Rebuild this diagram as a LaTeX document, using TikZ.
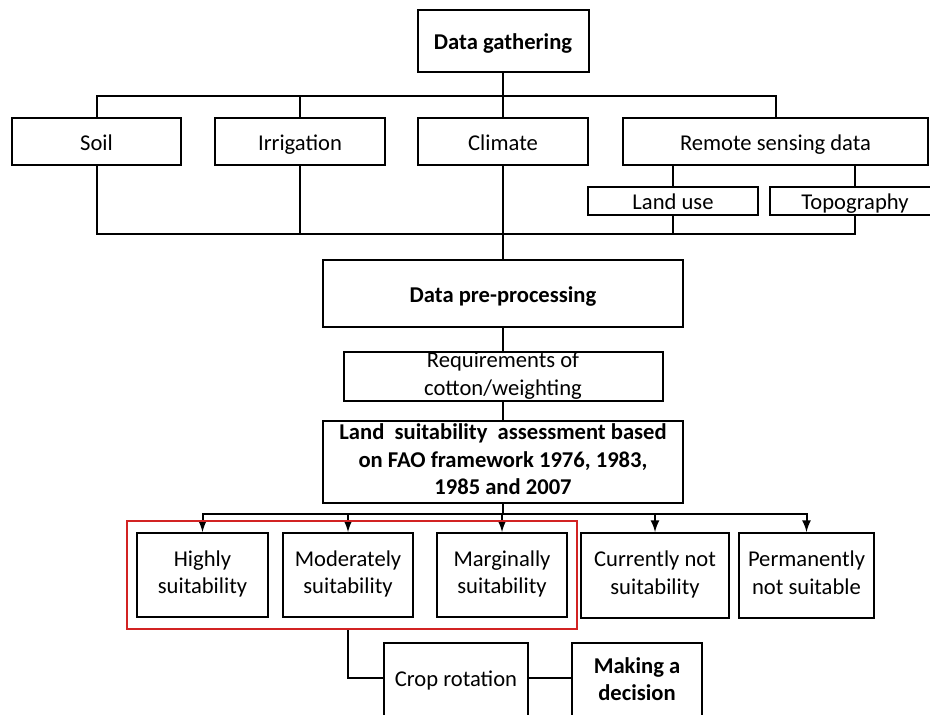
\documentclass[tikz,border=0pt]{standalone}
\usepackage{fontspec}
\setmainfont{Carlito}
\usetikzlibrary{arrows,fit}
\definecolor{framered}{RGB}{210,35,35}
\newcommand{\bxtop}{\rule{0pt}{11.5pt}}
\newcommand{\bxbot}{\rule[-2.8pt]{0pt}{0pt}}

\begin{document}
\begin{tikzpicture}[x=0.5pt,y=-0.5pt,
        box/.style={draw, line width=1pt, align=center, inner sep=0pt,
            font=\fontsize{11.3}{13.6}\selectfont,
            execute at begin node=\bxtop, execute at end node=\bxbot},
        bbox/.style={box, font=\fontsize{11.3}{13.6}\selectfont\bfseries},
        link/.style={line width=1pt},
        arr/.style={line width=1pt, -latex}]
        \useasboundingbox (0,0) rectangle (930,714);
        \clip (0,0) rectangle (930,714);

        % gathering
        \node[bbox, minimum width=85.5pt, minimum height=31pt] (gather) at (503,41) {Data gathering};
        \node[box, minimum width=84.5pt, minimum height=23.5pt] (soil) at (96.5,141.5) {Soil};
        \node[box, minimum width=85pt, minimum height=23.5pt] (irrig) at (300,141.5) {Irrigation};
        \node[box, minimum width=85pt, minimum height=23.5pt] (climate) at (503,141.5) {Climate};
        \node[box, minimum width=152.5pt, minimum height=23.5pt] (remote) at (775.5,141.5) {Remote sensing data};
        \node[box, minimum width=85pt, minimum height=12pt] (landuse) at (673,201) {Land use};
        \node[box, minimum width=85pt, minimum height=12pt] (topo) at (855,201) {Topography};
        \coordinate (join) at (503,234);

        \foreach \n in {soil,irrig,remote}
            \draw[link] (gather.south) -- ++(0,23) -| (\n.north);
        \draw[link] (gather.south) -- (climate.north);
        \draw[link] (remote.south -| landuse) -- (landuse.north);
        \draw[link] (remote.south -| topo) -- (topo.north);
        \foreach \n in {soil,irrig,landuse,topo}
            \draw[link] (\n.south) |- (join);

        % processing
        \node[bbox, minimum width=180pt, minimum height=33.5pt] (prep) at (503,293.5) {Data pre-processing};
        \node[box, minimum width=159.5pt, minimum height=23.5pt] (req) at (503,376.5) {Requirements of\\cotton/weighting};
        \node[bbox, minimum width=180pt, minimum height=41pt] (land) at (503,462)
            {Land\ \ suitability\ \ assessment based\\on FAO framework 1976, 1983,\\1985 and 2007};
        \draw[link] (climate.south) -- (prep.north);
        \draw[link] (prep.south) -- (req.north);
        \draw[link] (req.south) -- (land.north);

        % classes
        \node[box, minimum width=65.5pt, minimum height=42pt] (high) at (202.5,575) {Highly\\suitability};
        \node[box, minimum width=65pt, minimum height=42pt] (moder) at (348,575) {Moderately\\suitability};
        \node[box, minimum width=65pt, minimum height=42pt] (margin) at (502,575) {Marginally\\suitability};
        \node[box, minimum width=74pt, minimum height=42.5pt] (current) at (655,575.5) {Currently not\\suitability};
        \node[box, minimum width=67.5pt, minimum height=42.5pt] (perm) at (806.5,575.5) {Permanently\\not suitable};
        \foreach \n in {high,moder,margin,current,perm}
            \draw[arr] (land.south) -- ++(0,10) -| (\n.north);
        \node[draw=framered, line width=1pt, inner xsep=4.5pt, inner ysep=5.5pt,
            fit=(high)(moder)(margin)] (group) {};

        % decision
        \node[box, minimum width=72pt, minimum height=60pt, anchor=north] (crop) at (456,642) {};
        \node[font=\fontsize{11.3}{13.6}\selectfont, inner sep=0pt] (croptext) at (456,678) {\bxtop Crop rotation\bxbot};
        \node[box, minimum width=65pt, minimum height=60pt, anchor=north] (making) at (637,642) {};
        \node[align=center, inner sep=0pt, font=\fontsize{11.3}{13.6}\selectfont\bfseries] (makingtext) at (637,678) {\bxtop Making a\\decision\bxbot};
        \draw[link] (group.south -| moder) |- (crop.west |- croptext);
        \draw[link] (crop.east |- croptext) -- (making.west |- croptext);
\end{tikzpicture}
\end{document}
